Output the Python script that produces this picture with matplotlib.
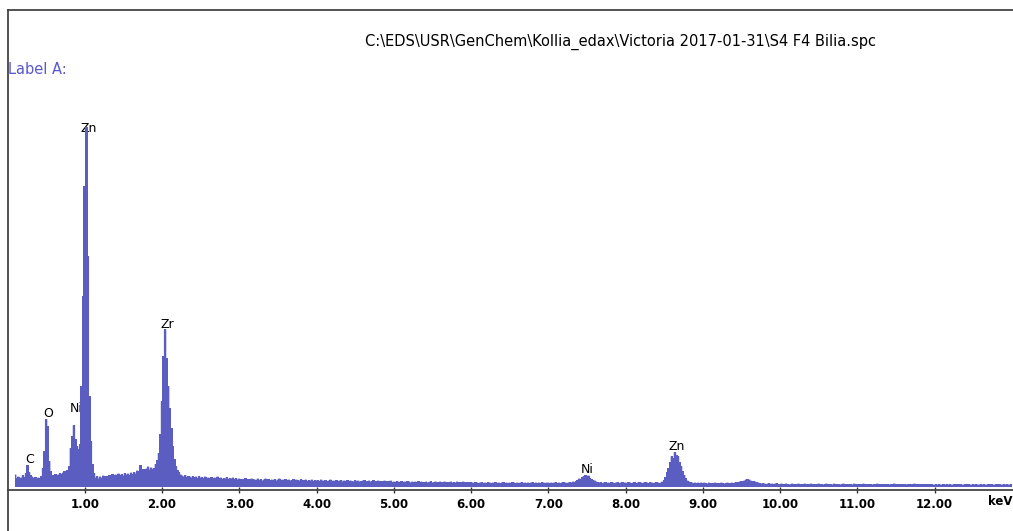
import numpy as np
import matplotlib
matplotlib.use("Agg")
import matplotlib.pyplot as plt
from matplotlib.lines import Line2D

# EDS spectrum, counts per 20 eV channel; each band starts at its own keV
channel_width = 0.02

band_0 = [115, 80, 95, 70, 85, 110, 90, 130, 210, 140,      # starts at 0.10 keV
          110, 95, 80, 90, 75, 85, 80, 100, 180, 350,
          670, 600, 250, 150, 110, 95, 120, 105, 115, 130,
          120, 135, 150, 140, 160, 200, 380, 500, 610, 470,
          400, 370, 420, 1000, 1900]
band_1 = [3000, 3590, 2300, 900, 450, 220, 130, 85, 100, 75,
          95, 80, 105, 90, 100, 85, 110, 95, 120, 100,
          115, 105, 125, 110, 120, 105, 130, 115, 125, 110,
          135, 120, 140, 125, 155, 140, 210, 150, 170, 160,
          175, 195, 165, 185, 170, 180, 220, 260, 330, 520]
band_2 = [850, 1300, 1570, 1280, 1000, 780, 580, 400, 270, 200,
          160, 140, 115, 105, 95, 110, 90, 100, 95, 85,
          100, 90, 95, 80, 100, 85, 90, 80, 95, 75,
          85, 80, 90, 75, 85, 80, 95, 75, 85, 70,
          80, 75, 90, 70, 80, 75, 85, 70, 80, 65]
band_3 = [75, 65, 70, 60, 80, 65, 70, 60, 75, 70,
          65, 60, 75, 60, 70, 55, 65, 75, 60, 70,
          55, 65, 60, 70, 55, 65, 75, 60, 65, 55,
          70, 60, 65, 55, 60, 70, 55, 65, 60, 55,
          70, 60, 55, 65, 50, 60, 55, 65, 50, 60]
band_4 = [55, 60, 50, 65, 55, 45, 60, 50, 55, 65,
          50, 55, 45, 60, 50, 55, 60, 45, 55, 50,
          60, 45, 55, 50, 45, 60, 50, 55, 45, 50,
          55, 60, 45, 50, 55, 45, 50, 60, 45, 50,
          55, 45, 50, 40, 55, 45, 50, 45, 55, 40]
band_5 = [45, 40, 50, 45, 40, 50, 35, 45, 40, 50,
          45, 35, 45, 40, 45, 35, 50, 40, 45, 35,
          40, 45, 35, 40, 50, 35, 40, 45, 35, 40,
          45, 40, 35, 45, 40, 35, 40, 45, 35, 40,
          35, 45, 40, 35, 40, 45, 35, 40, 35, 40]
band_6 = [40, 35, 30, 40, 35, 30, 35, 40, 30, 35,
          30, 40, 35, 30, 35, 30, 40, 30, 35, 30,
          35, 40, 30, 35, 30, 35, 30, 40, 35, 30,
          35, 30, 35, 40, 30, 35, 30, 35, 30, 35,
          40, 30, 35, 30, 35, 30, 40, 35, 30, 35]
band_7 = [35, 30, 35, 30, 35, 40, 30, 35, 30, 35,
          40, 35, 30, 35, 40, 35, 45, 40, 50, 60,
          75, 70, 90, 100, 110, 95, 105, 80, 70, 60,
          55, 45, 40, 35, 40, 30, 35, 40, 30, 35,
          30, 40, 35, 30, 35, 40, 30, 35, 40, 35]
band_8 = [35, 30, 40, 35, 30, 35, 40, 30, 35, 40,
          35, 30, 35, 40, 35, 30, 40, 35, 30, 35,
          40, 35, 30, 35, 45, 60, 90, 140, 180, 240,
          300, 280, 340, 310, 300, 240, 200, 150, 110, 80,
          55, 45, 40, 35, 30, 35, 30, 35, 30, 35]
band_9 = [30, 35, 30, 25, 35, 30, 25, 30, 35, 30,
          25, 30, 35, 30, 25, 30, 35, 30, 30, 35,
          30, 35, 40, 40, 45, 50, 50, 55, 65, 70,
          65, 55, 50, 50, 45, 40, 35, 30, 25, 30,
          25, 20, 25, 30, 20, 25, 20, 25, 30, 20]
band_10 = [20, 25, 15, 20, 25, 20, 15, 20, 25, 15,
           20, 20, 25, 15, 20, 15, 25, 20, 15, 20,
           25, 20, 15, 20, 20, 25, 15, 20, 15, 20,
           25, 15, 20, 20, 15, 25, 20, 15, 20, 15,
           20, 25, 15, 20, 15, 20, 20, 15, 25, 20]
band_11 = [20, 15, 20, 15, 25, 15, 20, 15, 20, 20,
           15, 20, 15, 25, 15, 20, 15, 20, 15, 20,
           20, 15, 20, 15, 25, 15, 20, 15, 20, 15,
           20, 20, 15, 20, 15, 20, 15, 25, 15, 20,
           15, 20, 15, 20, 20, 15, 20, 15, 20, 15]
band_12 = [15, 20, 15, 20, 15, 15, 20, 15, 20, 15,
           20, 15, 15, 20, 15, 20, 15, 20, 15, 15,
           20, 15, 20, 15, 15, 20, 15, 20, 15, 15,
           20, 15, 20, 15, 15, 20, 15, 20, 15, 15,
           20, 15, 20, 15, 15, 20, 15, 20, 15, 15, 20]

band_starts = [0.10] + list(range(1, 13))
bands = [band_0, band_1, band_2, band_3, band_4, band_5, band_6,
         band_7, band_8, band_9, band_10, band_11, band_12]

peak_names = ["C", "O", "Ni", "Zn", "Zr", "Ni", "Zn"]
peak_kev = [0.26, 0.50, 0.86, 1.02, 2.04, 7.48, 8.64]

title = r"C:\EDS\USR\GenChem\Kollia_edax\Victoria 2017-01-31\S4 F4 Bilia.spc"
tick_kev = list(range(1, 13))


def build_spectrum():
    energy, counts = [], []
    for start, band in zip(band_starts, bands):
        energy.extend(start + channel_width * np.arange(len(band)))
        counts.extend(band)
    return np.array(energy), np.array(counts, dtype=float)


energy, counts = build_spectrum()

W, H = 1013, 531
fig = plt.figure(figsize=(W / 100, H / 100), dpi=100)
ax = fig.add_axes([7.5 / W, 41 / H, 1005.5 / W, 480 / H])

fill_color = "#5b5ec0"
ax.fill_between(energy, counts, step="mid", facecolor=fill_color,
                edgecolor="none", lw=0, antialiased=False, zorder=3)
ax.step(energy, counts, where="mid", color=fill_color, lw=0.6, zorder=3)

# element labels sit just above their peak, drawn beneath the spectrum
label_offsets = [4, 4, 12.5, -1, 3.5, 4, 4]
for name, kev, dy in zip(peak_names, peak_kev, label_offsets):
    i = np.argmin(np.abs(energy - kev))
    ax.annotate(name, (energy[i], counts[i]), xytext=(1.5, dy),
                textcoords="offset points", ha="center", va="center",
                fontsize=9, color="black", zorder=2)

ax.set_xlim(0, 1005.5 / 77.25)
ax.set_ylim(-35, 4765)
ax.set_yticks([])
ax.set_xticks(tick_kev)
ax.set_xticklabels([f"{v:.2f}" for v in tick_kev], fontweight="bold", fontsize=8.5)
ax.tick_params(axis="x", direction="inout", length=5, width=1, pad=3.5,
               color="#333333")

ax.spines["right"].set_visible(False)
for side in ("top", "left", "bottom"):
    ax.spines[side].set_color("#444444")
    ax.spines[side].set_linewidth(1.3)

# left frame carries on below the energy axis
fig.add_artist(Line2D([7.5 / W, 7.5 / W], [0, 41 / H], color="#444444", lw=1.3))

fig.text(620 / W, 1 - 42 / H, title, ha="center", va="center", fontsize=10.5)
fig.text(8 / W, 1 - 70 / H, "Label A:", ha="left", va="center",
         fontsize=10.5, color="#5a5acd")
fig.text(988 / W, 1 - 501.5 / H, "keV", ha="left", va="center",
         fontsize=8.5, fontweight="bold")

fig.savefig("out.png", dpi=100)
